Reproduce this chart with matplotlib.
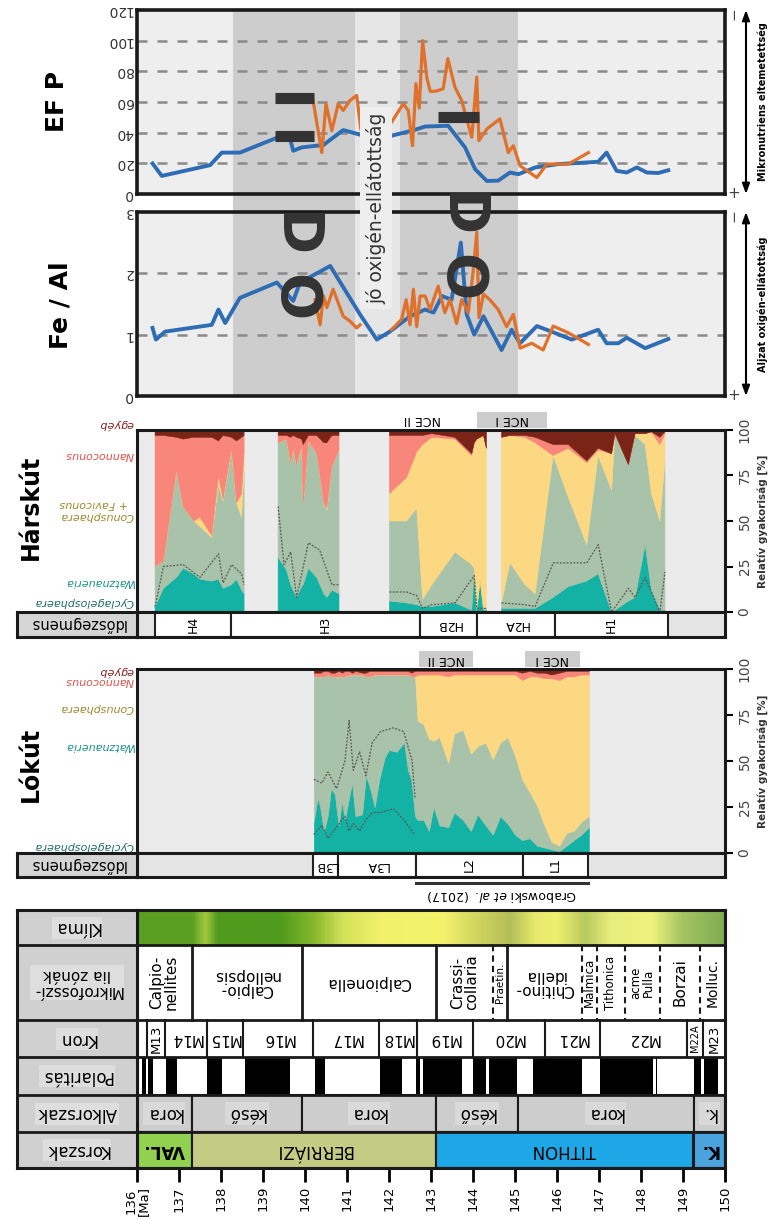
import numpy as np
import matplotlib
matplotlib.use('Agg')
import matplotlib.pyplot as plt
from matplotlib.patches import Rectangle
from matplotlib.colors import LinearSegmentedColormap
from matplotlib.transforms import blended_transform_factory

W, H = 770, 1219
nan = np.nan

# ---- EF P / Fe-Al curves (age in Ma) ----
efp_blue_age = [136.37, 136.59, 137.74, 138.02, 138.45, 139.36, 139.63, 139.72, 139.92, 140.44,
                140.91, 141.31, 142.06, 142.57, 142.86, 143.41, 143.81, 144.05, 144.33, 144.60,
                144.88, 145.08, 145.48, 146.03, 146.98, 147.18, 147.42, 147.66, 147.90, 148.14,
                148.41, 148.65]
efp_blue = [19.9, 11.8, 18.8, 27, 27, 37, 37.4, 28.2, 30.4, 32, 41.7, 38.7, 38, 41.5, 44, 44.5,
            30.4, 16.2, 8.5, 8.7, 14, 12.9, 17.3, 19.5, 21, 27, 15.1, 14, 17.3, 14, 13.7, 15.5]
efp_orange_age = [140.18, 140.40, 140.50, 140.64, 140.79, 140.91, 141.07, 141.23, 141.33, nan,
                  142.06, 142.34, 142.46, 142.56, 142.64, 142.72, 142.80, 142.90, 142.98, 143.10,
                  143.29, 143.40, 143.57, 143.73, 143.97, 144.09, 144.14, 144.33, 144.64, 144.84,
                  144.96, 145.12, 145.52, 145.76, 146.27, 146.75]
efp_orange = [63, 27, 58.8, 41.3, 58.8, 54.5, 61, 64.3, 42.4, nan, 46.8, 58.8, 54.4, 31.5, 72, 56,
              100, 76, 67, 67, 68.6, 88.3, 69.7, 61, 37, 76.3, 34.8, 42.4, 49, 27, 31.5, 18.4,
              10.7, 19.5, 19.5, 27]
efp_bar_start = [139.29, 139.29, 143.17]
efp_bar_end = [140.21, 140.21, 144.14]
efp_bar_val = [62.5, 38, 50.5]

fe_blue_age = [136.37, 136.45, 136.67, 137.78, 137.94, 138.10, 138.45, 139.33, 139.72, 139.88,
               140.60, 141.31, 141.71, 142.02, 142.50, 142.86, 143.06, 143.26, 143.49, 143.71,
               143.85, 144.03, 144.25, 144.68, 144.92, 145.12, 145.52, 145.87, 146.35, 146.98,
               147.18, 147.46, 147.66, 148.10, 148.65]
fe_blue = [1.11, 0.92, 1.05, 1.16, 1.41, 1.19, 1.60, 1.85, 1.55, 1.85, 2.12, 1.33, 0.92, 1.05,
           1.30, 1.41, 1.36, 1.63, 1.57, 2.50, 1.33, 1.00, 1.30, 0.75, 1.08, 0.86, 1.14, 1.05,
           0.92, 1.08, 0.86, 0.86, 0.95, 0.78, 0.93]
fe_orange_age = [140.24, 140.36, 140.44, 140.52, 140.67, 140.79, 140.91, 141.07, 141.23, 141.31,
                 nan, 142.06, 142.30, 142.41, 142.50, 142.58, 142.66, 142.74, 142.86, 142.98,
                 143.17, 143.33, 143.45, 143.61, 143.73, 143.89, 144.01, 144.09, 144.14, 144.25,
                 144.40, 144.60, 144.80, 144.96, 145.12, 145.40, 145.67, 145.91, 146.27, 146.75]
fe_orange = [1.57, 1.16, 1.63, 1.44, 1.74, 1.52, 1.30, 1.22, 1.11, 1.16, nan, 1.08, 1.25, 1.57,
             1.16, 1.74, 1.13, 1.63, 1.63, 1.41, 1.79, 1.36, 1.57, 1.18, 1.57, 1.36, 2.07, 2.67,
             1.28, 1.66, 1.57, 1.41, 1.13, 1.33, 0.78, 0.86, 0.75, 1.14, 1.03, 0.84]

dark_bands = [(138.29, 141.19), (142.26, 145.07)]

# ---- nannofossil composition [%] ----
taxa = ['Cyclagelosphaera', 'Watznaueria', 'Conusphaera\n+ Faviconus', 'Nannoconus', 'egyéb']
taxa_lk = ['Cyclagelosphaera', 'Watznaueria', 'Conusphaera', 'Nannoconus', 'egyéb']
taxa_colors = ['#14b2a4', '#a8c3aa', '#fdd883', '#f8867a', '#7a2418']
taxa_text_colors = ['#1f6e68', '#1a9488', '#9c8a2a', '#e0524a', '#8b1c1c']

hk_age = np.array([136.43, 136.63, 136.94, 137.10, 137.35, 137.50, 137.78, 137.94, 138.05, 138.25,
                   138.37, 138.49, 138.55, nan,
                   139.36, 139.56, 139.66, 139.72, 139.80, 139.92, 139.96, 140.08, 140.28, 140.45,
                   140.52, 140.64, 140.81, nan,
                   142.01, 142.42, 142.66, 142.80, 143.02, 143.57, 143.97, 144.03, 144.09, 144.17,
                   144.25, 144.32, nan,
                   144.68, 144.88, 145.24, 145.48, 145.91, 146.27, 146.71, 146.98, 147.30, 147.38,
                   147.70, 147.86, 148.10, 148.25, 148.45, 148.57])
hk_cyc = [3, 13, 19, 24, 21, 18, 17, 18, 13, 15, 18, 12, 10, nan,
          30, 23, 15, 12, 8, 14, 15, 24, 19, 10, 8, 12, 10, nan,
          6, 5, 4, 3, 3, 5, 1, 23, 1, 17, 1, 1, nan,
          2, 2, 2, 2, 8, 14, 17, 21, 0, 1, 6, 8, 37, 12, 1, 1]
hk_watz = [22, 15, 59, 34, 29, 29, 24, 52, 48, 74, 42, 40, 68, nan,
           63, 72, 67, 78, 73, 78, 45, 70, 68, 50, 48, 68, 79, nan,
           44, 45, 53, 4, 12, 28, 25, 1, 1, 1, 1, 1, nan,
           3, 25, 13, 8, 78, 49, 20, 65, 67, 97, 75, 89, 55, 53, 49, 82]
hk_conus = [0, 0, 0, 0, 0, 5, 1, 5, 1, 1, 0, 13, 10, nan,
            0, 0, 0, 0, 0, 0, 0, 0, 0, 0, 1, 0, 0, nan,
            15, 24, 31, 85, 81, 62, 60, 69, 93, 78, 95, 88, nan,
            91, 70, 81, 83, 0, 27, 45, 3, 20, 0, 0, 1, 6, 34, 42, 15]
hk_nanno = [72, 69, 18, 37, 46, 44, 54, 19, 35, 6, 34, 31, 9, nan,
            4, 2, 14, 7, 15, 3, 32, 3, 10, 33, 36, 17, 8, nan,
            32, 23, 9, 5, 2, 1, 1, 0, 0, 0, 0, 0, nan,
            0, 0, 1, 3, 6, 2, 1, 1, 0, 0, 0, 0, 0, 0, 4, 1]
hk_egyeb = [3, 3, 4, 5, 4, 4, 4, 6, 3, 4, 6, 4, 3, nan,
            3, 3, 4, 3, 4, 5, 8, 3, 3, 7, 7, 3, 3, nan,
            3, 3, 3, 3, 2, 4, 13, 7, 5, 4, 3, 10, nan,
            4, 3, 3, 4, 8, 8, 17, 10, 13, 2, 19, 2, 2, 1, 4, 1]
hk_dot_age = [136.43, 136.63, 137.10, 137.50, 137.94, 138.05, 138.25, 138.49, 138.55, nan,
              139.36, 139.50, 139.66, 139.80, 139.96, 140.08, 140.35, 140.64, 140.81, nan,
              142.01, 142.42, 142.66, 142.80, 143.02, 143.57, 144.03, 144.09, 144.32, nan,
              144.68, 145.24, 145.48, 145.91, 146.71, 146.98, 147.30, 147.70, 147.86, 148.10,
              148.45, 148.57]
hk_dot = [3, 25, 26, 19, 32, 16, 26, 21, 15, nan, 58, 26, 33, 8, 25, 38, 34, 15, 15, nan,
          11, 11, 9, 2, 4, 5, 20, 2, 2, nan, 5, 4, 3, 27, 27, 37, 0, 13, 8, 19, 0, 22]

lk_age = np.array([140.21, 140.30, 140.36, 140.45, 140.54, 140.62, 140.71, 140.80, 140.88, 140.95,
                   141.05, 141.12, 141.20, 141.36, 141.45, 141.54, 141.66, 141.77, 141.90, 142.00,
                   142.18, 142.36, 142.45, 142.53, 142.62, 142.68, 142.82, 142.95, 143.06, 143.20,
                   143.41, 143.55, 143.76, 143.95, 144.11, 144.30, 144.47, 144.65, 144.82, 145.00,
                   145.17, 145.35, 145.52, 145.70, 145.87, 146.05, 146.23, 146.40, 146.58, 146.76])
lk_cyc = [17, 30, 25, 12, 20, 35, 32, 15, 28, 18, 30, 38, 20, 21, 42, 36, 25, 40, 52, 56,
          55, 60, 45, 40, 20, 18, 18, 12, 25, 15, 14, 22, 18, 12, 21, 15, 10, 20, 16, 10,
          7, 8, 4, 3, 2, 1, 4, 7, 10, 14]
lk_watz = [79, 66, 71, 84, 77, 61, 64, 81, 68, 78, 67, 59, 77, 76, 54, 60, 72, 57, 45, 41,
           42, 37, 52, 56, 76, 54, 52, 50, 36, 48, 35, 43, 49, 42, 37, 45, 41, 40, 47, 43,
           33, 25, 22, 12, 4, 3, 7, 5, 7, 6]
lk_conus = [0, 0, 0, 0, 0, 0, 0, 0, 0, 0, 0, 0, 0, 0, 0, 0, 0, 0, 0, 0,
            0, 0, 0, 0, 0, 25, 27, 35, 36, 34, 47, 32, 30, 43, 39, 37, 46, 37, 34, 44,
            54, 63, 70, 80, 89, 90, 85, 84, 80, 77]
lk_nanno = [2, 2, 2, 3, 2, 2, 2, 3, 2, 3, 2, 1, 2, 1, 2, 3, 2, 2, 2, 2,
            2, 2, 2, 2, 3, 2, 2, 2, 2, 2, 3, 2, 2, 2, 2, 2, 2, 2, 2, 2,
            4, 3, 2, 3, 2, 4, 3, 3, 2, 2]
lk_egyeb = [2, 2, 2, 1, 1, 2, 2, 1, 2, 1, 1, 2, 1, 2, 2, 1, 1, 1, 1, 1,
            1, 1, 1, 2, 1, 1, 1, 1, 1, 1, 1, 1, 1, 1, 1, 1, 1, 1, 1, 1,
            2, 1, 2, 2, 3, 2, 1, 1, 1, 1]
lk_dot_age = [140.21, 140.40, 140.55, 140.75, 140.95, 141.05, 141.15, 141.30, 141.45, 141.60,
              141.80, 142.10, 142.35, 142.55, 142.62]
lk_dot = [40, 38, 44, 35, 50, 72, 45, 55, 42, 60, 66, 68, 66, 50, 30]
lk_dot2 = [10, 15, 8, 14, 20, 12, 16, 12, 18, 22, 22, 24, 18, 12, 10]

# ---- time segments ----
hk_seg_bounds = [136.43, 138.24, 142.74, 144.10, 145.95, 148.64]
hk_seg_labels = ['H4', 'H3', 'H2B', 'H2A', 'H1']
hk_seg_rot = [90, 90, 180, 180, 90]
lk_seg_bounds = [140.19, 140.79, 142.64, 145.19, 146.74]
lk_seg_labels = ['L3B', 'L3A', 'L2', 'L1']
lk_seg_rot = [180, 180, 90, 90]
hk_nce = [(142.05, 143.52, 'NCE II', '#ffffff'), (144.10, 145.76, 'NCE I', '#cccccc')]
lk_nce = [(142.71, 144.00, 'NCE II', '#cccccc'), (145.24, 146.55, 'NCE I', '#cccccc')]
grab_start, grab_end = 142.64, 146.74

# ---- stratigraphic column ----
klima_age = [136.0, 137.3, 137.6, 137.9, 139.4, 140.2, 140.9, 141.8, 143.3, 143.9, 144.9,
             145.5, 146.0, 146.7, 147.3, 148.3, 149.0, 150.0]
klima_col = ['#5a9f22', '#5aa022', '#a3c83e', '#4f9a1c', '#4f9a1c', '#86b82c', '#d4e25a',
             '#f2f26a', '#f5f36c', '#d9dc62', '#b4bd58', '#e7ea6c', '#eef070', '#b9c95e',
             '#e8ee7c', '#eef27e', '#a6c462', '#7fae52']
mf_bounds = [136.0, 137.30, 139.92, 143.13, 144.48, 144.82, 146.59, 146.95, 147.62, 148.45,
             149.40, 150.0]
mf_labels = ['Calpio-\nnellites', 'Calpio-\nnellopsis', 'Calpionella', 'Crassi-\ncollaria',
             'Praetin.', 'Chitino-\nidella', 'Malmica', 'Tithonica', 'acme\nPulla', 'Borzai',
             'Molluc.']
mf_rot = [90, 180, 180, 90, 90, 180, 90, 90, 90, 90, 90]
mf_size = [11, 11, 11, 11, 7.5, 11, 8.5, 8.5, 8.5, 11, 10]
mf_dashed = [False, False, False, True, False, True, True, True, True, True]
kron_bounds = [136.0, 136.23, 136.67, 137.66, 138.52, 140.20, 141.75, 142.66, 143.99, 145.71,
               147.02, 149.09, 149.47, 150.0]
kron_labels = ['', 'M13', 'M14', 'M15', 'M16', 'M17', 'M18', 'M19', 'M20', 'M21', 'M22',
               'M22A', 'M23']
pol_black_start = [136.11, 136.27, 136.68, 137.67, 138.57, 140.24, 141.79, 142.64, 142.80,
                   144.01, 144.39, 145.44, 147.02, 148.36, 149.25, 149.50]
pol_black_end = [136.21, 136.39, 136.95, 138.02, 139.64, 140.48, 142.30, 142.74, 143.75,
                 144.31, 145.04, 146.59, 148.29, 148.39, 149.44, 149.84]
sub_bounds = [136.0, 137.30, 139.92, 143.12, 145.06, 149.25, 150.0]
sub_labels = ['kora', 'késő', 'kora', 'késő', 'kora', 'k.']
per_bounds = [136.0, 137.30, 143.12, 149.25, 150.0]
per_labels = ['VAL.', 'BERRIÁZI', 'TITHON', 'K.']
per_colors = ['#92d050', '#c4cc83', '#1da7e6', '#4aa3df']
row_names = ['Klíma', 'Mikrofosszí-\nlia zónák', 'Kron', 'Polaritás', 'Alkorszak', 'Korszak']
row_edges = [0, 35, 110, 147, 185, 222, 258]

BLUE = '#2e6db4'
ORANGE = '#e0702a'

plt.rcParams['font.family'] = ['DejaVu Sans']
fig = plt.figure(figsize=(W / 100, H / 100), dpi=100)


def px_axes(x0, y0, x1, y1, **kw):
    return fig.add_axes([x0 / W, 1 - y1 / H, (x1 - x0) / W, (y1 - y0) / H], **kw)


def frame(ax, lw=2.2):
    for s in ax.spines.values():
        s.set_linewidth(lw)
        s.set_color('#1a1a1a')


# ---------- geochemistry panels ----------
ax_band = px_axes(137, 10, 725, 397, zorder=0)
ax_band.set_xlim(136, 150)
ax_band.axis('off')
for a, b in dark_bands:
    ax_band.axvspan(a, b, color='#cdcdcd', lw=0)
ax_band.axvspan(dark_bands[0][1], dark_bands[1][0], color='#e6e6e6', lw=0)


def geo_panel(y0, y1, ymax, grid):
    ax = px_axes(137, y0, 725, y1, zorder=1)
    ax.patch.set_alpha(0)
    ax.axvspan(136, dark_bands[0][0], color='#eeeeee', lw=0, zorder=0)
    ax.axvspan(dark_bands[1][1], 150, color='#eeeeee', lw=0, zorder=0)
    for g in grid:
        ax.axhline(g, color='#8a8a8a', lw=1.8, dashes=(4, 4), zorder=1)
    ax.set_xlim(136, 150)
    ax.set_ylim(0, ymax)
    ax.set_xticks([])
    ax.tick_params(axis='y', length=0, labelsize=10, labelcolor='#333333', pad=3)
    frame(ax, 2.6)
    return ax


ax_ef = geo_panel(10, 194, 120, [20, 40, 60, 80, 100])
ax_ef.plot(efp_blue_age, efp_blue, color=BLUE, lw=2.8, zorder=3, solid_joinstyle='round')
ax_ef.plot(efp_orange_age, efp_orange, color=ORANGE, lw=2.3, zorder=3, solid_joinstyle='round')
ax_ef.hlines(efp_bar_val, efp_bar_start, efp_bar_end, color='#333333', lw=8, zorder=4)
ax_ef.set_yticks(range(0, 121, 20))
ax_ef.set_yticklabels([str(v) for v in range(0, 121, 20)], rotation=180, va='center')

ax_fe = geo_panel(212, 396, 3, [1, 2])
ax_fe.plot(fe_blue_age, fe_blue, color=BLUE, lw=2.8, zorder=3, solid_joinstyle='round')
ax_fe.plot(fe_orange_age, fe_orange, color=ORANGE, lw=2.3, zorder=3, solid_joinstyle='round')
ax_fe.set_yticks([0, 1, 2, 3])
ax_fe.set_yticklabels(['0', '1', '2', '3'], rotation=180, va='center')


# ---------- nannofossil panels ----------
def stack_panel(y0, y1, age, layers, dot_age, dots, names, label_y):
    ax = px_axes(137, y0, 725, y1, zorder=1)
    ax.set_facecolor('#ebebeb')
    cum = np.cumsum(np.vstack([np.asarray(l, dtype=float) for l in layers]), axis=0)
    lower = np.where(np.isnan(cum[0]), np.nan, 0.0)
    for upper, c in zip(cum, taxa_colors):
        ax.fill_between(age, lower, upper, facecolor=c, edgecolor=c, lw=0.4)
        lower = upper
    for d in dots:
        ax.plot(dot_age, d, color='#555555', lw=0.9, dashes=(1.5, 1.2))
    ax.set_xlim(136, 150)
    ax.set_ylim(0, 100)
    ax.set_xticks([])
    ax.yaxis.tick_right()
    ax.set_yticks([0, 25, 50, 75, 100])
    ax.set_yticklabels(['0', '25', '50', '75', '100'], rotation=90, va='center')
    ax.tick_params(axis='y', length=6, width=1.5, labelsize=10, labelcolor='#444444', pad=3)
    ax.yaxis.set_label_position('right')
    ax.set_ylabel('Relatív gyakoriság [%]', fontsize=7.5, fontweight='bold', labelpad=4,
                  color='#333333')
    frame(ax, 2.2)
    tr = blended_transform_factory(ax.transAxes, ax.transData)
    for name, yv, col in zip(names, label_y, taxa_text_colors):
        ax.text(-0.006, yv, name, transform=tr, rotation=180, ha='right', va='center',
                fontsize=8, style='italic', color=col, clip_on=False)
    return ax


def seg_strip(y0, y1, bounds, labels, rots):
    axs = px_axes(137, y0, 725, y1, zorder=1)
    axs.set_facecolor('#e4e4e4')
    axs.set_xlim(136, 150)
    axs.set_ylim(0, 1)
    axs.set_xticks([])
    axs.set_yticks([])
    for a, b, lab, r in zip(bounds[:-1], bounds[1:], labels, rots):
        axs.add_patch(Rectangle((a, 0), b - a, 1, facecolor='white', edgecolor='#222222', lw=1.5))
        axs.text((a + b) / 2, 0.5, lab, rotation=r, ha='center', va='center', fontsize=9)
    frame(axs, 2.2)
    axl = px_axes(17, y0, 137, y1, zorder=1)
    axl.set_facecolor('#d5d5d5')
    axl.set_xticks([])
    axl.set_yticks([])
    axl.text(0.5, 0.5, 'Időszegmens', rotation=180, ha='center', va='center', fontsize=10.5,
             transform=axl.transAxes)
    frame(axl, 2.2)
    return axs


ax_hk = stack_panel(430, 612, hk_age, [hk_cyc, hk_watz, hk_conus, hk_nanno, hk_egyeb],
                    hk_dot_age, [hk_dot], taxa, [5.5, 16.5, 56, 86, 103])
ax_hks = seg_strip(612, 637, hk_seg_bounds, hk_seg_labels, hk_seg_rot)
ax_lk = stack_panel(669, 853, lk_age, [lk_cyc, lk_watz, lk_conus, lk_nanno, lk_egyeb],
                    lk_dot_age, [lk_dot, lk_dot2], taxa_lk, [4, 58, 79, 93.3, 98.8])
ax_lks = seg_strip(853, 877, lk_seg_bounds, lk_seg_labels, lk_seg_rot)

# ---------- stratigraphic column ----------
ax_st = px_axes(137, 910, 725, 1168, zorder=1)
ax_st.set_xlim(136, 150)
ax_st.set_ylim(258, 0)
ax_st.set_facecolor('white')
kpos = [(a - 136) / 14 for a in klima_age]
kcmap = LinearSegmentedColormap.from_list('klima', list(zip(kpos, klima_col)))
ax_st.imshow(np.linspace(0, 1, 700)[None, :], cmap=kcmap, aspect='auto',
             extent=[136, 150, row_edges[1], row_edges[0]], zorder=0)

r0, r1 = row_edges[1], row_edges[2]
for i, (a, b) in enumerate(zip(mf_bounds[:-1], mf_bounds[1:])):
    ax_st.text((a + b) / 2, (r0 + r1) / 2, mf_labels[i], rotation=mf_rot[i], ha='center',
               va='center', fontsize=mf_size[i], linespacing=0.95)
for x, dashed in zip(mf_bounds[1:-1], mf_dashed):
    ax_st.plot([x, x], [r0, r1], color='#1a1a1a', lw=1.5 if dashed else 2,
               ls=(0, (3, 2)) if dashed else '-')

r0, r1 = row_edges[2], row_edges[3]
for i, (a, b) in enumerate(zip(kron_bounds[:-1], kron_bounds[1:])):
    lab = kron_labels[i]
    rot = 90 if lab in ('M13', 'M22A', 'M23') else 180
    fs = 7 if lab == 'M22A' else (9.5 if rot == 90 else 11)
    ax_st.text((a + b) / 2, (r0 + r1) / 2, lab, rotation=rot, ha='center', va='center', fontsize=fs)
    if i > 0:
        ax_st.plot([a, a], [r0, r1], color='#1a1a1a', lw=1.5)

r0, r1 = row_edges[3], row_edges[4]
for a, b in zip(pol_black_start, pol_black_end):
    ax_st.add_patch(Rectangle((a, r0), b - a, r1 - r0, facecolor='black', lw=0))

r0, r1 = row_edges[4], row_edges[5]
for i, (a, b) in enumerate(zip(sub_bounds[:-1], sub_bounds[1:])):
    ax_st.add_patch(Rectangle((a, r0), b - a, r1 - r0, facecolor='#cdcdcd', edgecolor='#1a1a1a',
                              lw=1.5))
    ax_st.text((a + b) / 2, (r0 + r1) / 2, sub_labels[i], rotation=180, ha='center', va='center',
               fontsize=12, bbox=dict(facecolor='#d9d9d9', edgecolor='none', pad=2))

r0, r1 = row_edges[5], row_edges[6]
for i, (a, b) in enumerate(zip(per_bounds[:-1], per_bounds[1:])):
    ax_st.add_patch(Rectangle((a, r0), b - a, r1 - r0, facecolor=per_colors[i],
                              edgecolor='#1a1a1a', lw=1.5))
    bold = per_labels[i] in ('VAL.', 'K.')
    ax_st.text((a + b) / 2, (r0 + r1) / 2, per_labels[i], rotation=180, ha='center', va='center',
               fontsize=12, fontweight='bold' if bold else 'normal')

for y in row_edges[1:-1]:
    ax_st.axhline(y, color='#1a1a1a', lw=2)
ax_st.set_yticks([])
ax_st.set_xticks(range(136, 151))
ax_st.set_xticklabels(['136\n[Ma]'] + [str(v) for v in range(137, 151)], rotation=90,
                      fontsize=9.5, linespacing=0.9)
ax_st.tick_params(axis='x', direction='out', length=10, width=2, pad=3)
frame(ax_st, 2.2)

ax_lab = px_axes(17, 910, 137, 1168, zorder=1)
ax_lab.set_xlim(0, 1)
ax_lab.set_ylim(258, 0)
ax_lab.set_facecolor('#d0d0d0')
ax_lab.set_xticks([])
ax_lab.set_yticks([])
for name, a, b in zip(row_names, row_edges[:-1], row_edges[1:]):
    ax_lab.text(0.5, (a + b) / 2, name, rotation=180, ha='center', va='center',
                fontsize=11 if '\n' in name else 12, linespacing=1.0,
                bbox=dict(facecolor='#dedede', edgecolor='none', pad=1.5))
for y in row_edges[1:-1]:
    ax_lab.axhline(y, color='#1a1a1a', lw=2)
frame(ax_lab, 2.2)

# ---------- overlay: labels and annotations ----------
ax_ov = fig.add_axes([0, 0, 1, 1], zorder=10)
ax_ov.set_xlim(0, W)
ax_ov.set_ylim(H, 0)
ax_ov.axis('off')
ax_ov.patch.set_alpha(0)

ax_ov.text(57, 102, 'EF P', rotation=90, fontsize=18, fontweight='bold', ha='center', va='center')
ax_ov.text(60, 305, 'Fe / Al', rotation=90, fontsize=18, fontweight='bold', ha='center',
           va='center')
ax_ov.text(31, 507, 'Hárskút', rotation=90, fontsize=17, fontweight='bold', ha='center',
           va='center')
ax_ov.text(31, 764, 'Lókút', rotation=90, fontsize=17, fontweight='bold', ha='center', va='center')

ax_ov.text(376, 208, 'jó oxigén-ellátottság', rotation=90, fontsize=13.5, color='#333333',
           ha='center', va='center', bbox=dict(facecolor='#eeeeee', edgecolor='none', pad=4))
for (x, yd, yo) in [(294, 235, 298), (460, 215, 278)]:
    ax_ov.text(x, yd, 'D', rotation=270, fontsize=40, fontweight='bold', color='#333333',
               ha='center', va='center')
    ax_ov.text(x, yo, 'O', rotation=270, fontsize=40, fontweight='bold', color='#333333',
               ha='center', va='center')

for (t0, t1, txt) in [(10, 194, 'Mikronutriens eltemetettség'), (212, 396, 'Aljzat oxigén-ellátottság')]:
    ax_ov.text(734, t0 + 4, '−', rotation=90, fontsize=11, ha='center', va='center', color='#444444')
    ax_ov.text(734, t1, '+', fontsize=11, ha='center', va='center', color='#444444')
    ax_ov.annotate('', xy=(746, t0), xytext=(746, t1),
                   arrowprops=dict(arrowstyle='<|-|>,head_length=0.6,head_width=0.22',
                                   color='black', lw=1.5, shrinkA=0, shrinkB=0))
    ax_ov.text(763, (t0 + t1) / 2, txt, rotation=90, fontsize=7, fontweight='bold',
               ha='center', va='center')

for ax_s, nces, ytop in [(ax_hks, hk_nce, 412), (ax_lks, lk_nce, 651)]:
    tr = blended_transform_factory(ax_s.transData, ax_ov.transData)
    for a, b, lab, col in nces:
        ax_ov.add_patch(Rectangle((a, ytop), b - a, 16, transform=tr, facecolor=col,
                                  edgecolor='none'))
        ax_ov.text((a + b) / 2, ytop + 8, lab, transform=tr, rotation=180, ha='center',
                   va='center', fontsize=9)

tr = blended_transform_factory(ax_lks.transData, ax_ov.transData)
ax_ov.plot([grab_start, grab_end], [883, 883], color='#333333', lw=2.2, transform=tr)
ax_ov.text((grab_start + grab_end) / 2, 895, r'Grabowski $\it{et\ al.}$ (2017)', transform=tr,
           rotation=180, ha='center', va='center', fontsize=9)

fig.savefig('out.png', dpi=100)
